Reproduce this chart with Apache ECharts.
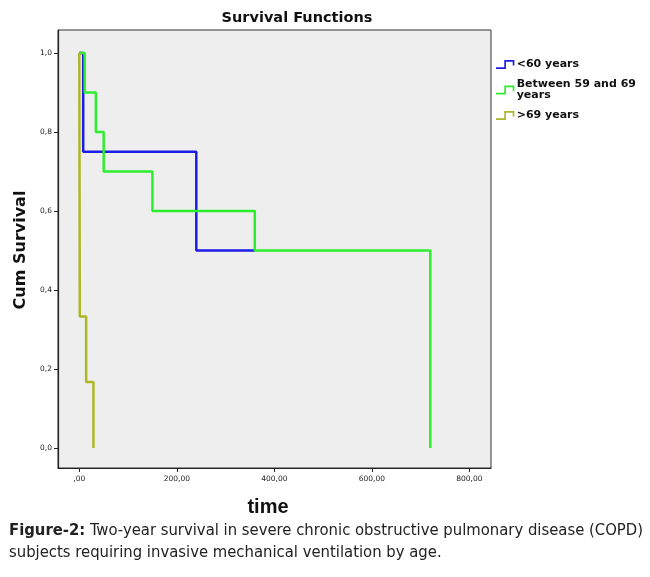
<!DOCTYPE html>
<html>
<head>
<meta charset="utf-8">
<script src="https://cdn.jsdelivr.net/npm/echarts@6/dist/echarts.min.js"></script>
<style>
html,body{margin:0;padding:0;background:#fff;}
#c{width:650px;height:577px;}
</style>
</head>
<body>
<div id="c"></div>
<script>
// ---- data ----
const seriesNames = ['<60 years', 'Between 59 and 69 years', '>69 years'];
const under60Time = [0, 8, 240, 360];
const under60Surv = [1.0, 0.75, 0.5, 0.5];
const mid59to69Time = [0, 11, 34, 50, 150, 360, 720];
const mid59to69Surv = [1.0, 0.9, 0.8, 0.7, 0.6, 0.5, 0.0];
const over69Time = [0, 1, 14, 29];
const over69Surv = [1.0, 0.333, 0.167, 0.0];
const xTicks = [0, 200, 400, 600, 800];
const yTicks = [0, 0.2, 0.4, 0.6, 0.8, 1.0];

const colors = ['#1c1ce6', '#2cee2c', '#adb624'];
const pair = (t, s) => t.map((v, i) => [v, s[i]]);

const chart = echarts.init(document.getElementById('c'), null, {renderer: 'canvas'});
const stepIcon = 'path://M0,8 L9,8 L9,0 L20,0 L20,6 L18.2,6 L18.2,1.8 L10.8,1.8 L10.8,9.8 L0,9.8 Z';

const lineSeries = [
  pair(under60Time, under60Surv),
  pair(mid59to69Time, mid59to69Surv),
  pair(over69Time, over69Surv)
].map((d, i) => ({
  name: seriesNames[i],
  type: 'line',
  step: 'end',
  data: d,
  symbol: 'none',
  showSymbol: false,
  lineStyle: {width: 2.5, color: colors[i]},
  itemStyle: {color: colors[i]},
  z: 3 + i
}));

chart.setOption({
  animation: false,
  backgroundColor: '#ffffff',
  title: {
    text: 'Survival Functions',
    left: 292, top: 6, textAlign: 'center',
    textStyle: {fontFamily: 'DejaVu Sans, sans-serif', fontWeight: 'bold', fontSize: 14.5, color: '#111'}
  },
  legend: {
    orient: 'vertical',
    left: 491, top: 54,
    itemWidth: 19, itemHeight: 9, itemGap: 9,
    icon: stepIcon,
    data: seriesNames,
    formatter: n => n === 'Between 59 and 69 years' ? 'Between 59 and 69\nyears' : n,
    textStyle: {fontFamily: 'DejaVu Sans, sans-serif', fontWeight: 'bold', fontSize: 11, lineHeight: 11, color: '#111', padding: [0, 0, 0, -3]}
  },
  grid: {
    left: 58, top: 30, right: 159, bottom: 109,
    show: true, backgroundColor: '#eeeeee', borderColor: '#333', borderWidth: 1
  },
  xAxis: {
    type: 'value', min: -43.7, max: 844.5,
    axisLine: {show: true, onZero: false, lineStyle: {color: '#222', width: 1.2}},
    axisTick: {show: true, length: 4, customValues: xTicks, lineStyle: {color: '#222'}},
    axisLabel: {
      customValues: xTicks, margin: 7,
      fontFamily: 'DejaVu Sans, sans-serif', fontSize: 7.5, color: '#222',
      formatter: v => v === 0 ? ',00' : v.toFixed(2).replace('.', ',')
    },
    splitLine: {show: false}
  },
  yAxis: {
    type: 'value', min: -0.0506, max: 1.058,
    axisLine: {show: true, onZero: false, lineStyle: {color: '#222', width: 1.2}},
    axisTick: {show: true, length: 4, customValues: yTicks, lineStyle: {color: '#222'}},
    axisLabel: {
      customValues: yTicks, margin: 6,
      fontFamily: 'DejaVu Sans, sans-serif', fontSize: 7.5, color: '#222',
      formatter: v => v.toFixed(1).replace('.', ',')
    },
    splitLine: {show: false}
  },
  graphic: [
    {
      type: 'text', x: 21, y: 250, rotation: Math.PI / 2,
      style: {text: 'Cum Survival', fill: '#111', font: 'bold 16px "DejaVu Sans", sans-serif', align: 'center', verticalAlign: 'middle'}
    },
    {
      type: 'text', x: 268, y: 507,
      style: {text: 'time', fill: '#111', font: 'bold 20px "Liberation Sans", Arial, sans-serif', align: 'center', verticalAlign: 'middle'}
    },
    {
      type: 'text', x: 9, y: 531,
      style: {
        text: '{b|Figure-2:} Two-year survival in severe chronic obstructive pulmonary disease (COPD)',
        verticalAlign: 'middle',
        font: '16.5px "DejaVu Sans Condensed", sans-serif',
        fill: '#222',
        rich: {b: {fontWeight: 'bold', fontFamily: '"DejaVu Sans Condensed", sans-serif', fontSize: 16.5, fill: '#222'}}
      }
    },
    {
      type: 'text', x: 9, y: 553,
      style: {
        text: 'subjects requiring invasive mechanical ventilation by age.',
        verticalAlign: 'middle',
        font: '16.5px "DejaVu Sans Condensed", sans-serif',
        fill: '#222'
      }
    }
  ],
  series: lineSeries
});
</script>
</body>
</html>
